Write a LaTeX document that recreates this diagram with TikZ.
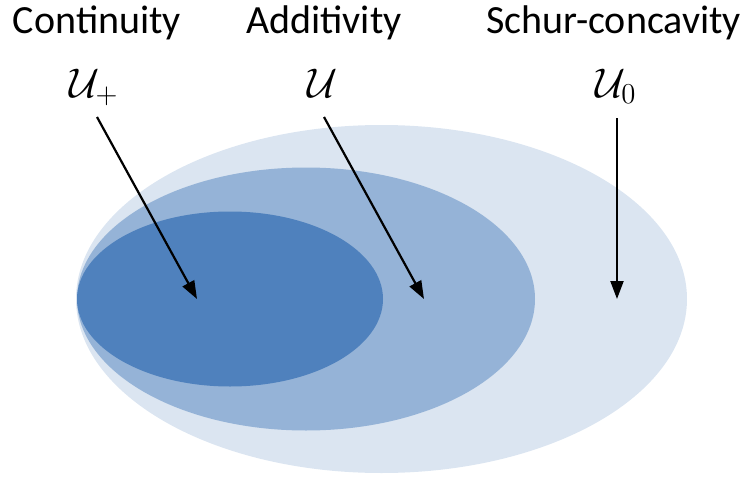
\documentclass[tikz,border=0pt]{standalone}
\usepackage{fontspec}
\setmainfont{Carlito}
\usepackage{tikz}
\usetikzlibrary{positioning,arrows.meta}
\definecolor{setouter}{HTML}{DBE5F1}
\definecolor{setmid}{HTML}{95B3D7}
\definecolor{setinner}{HTML}{4F81BD}
\newcommand{\Uset}{\mathcal{U}}

\begin{document}
\begin{tikzpicture}[x=0.5pt, y=-0.5pt,
  prop/.style={font=\fontsize{20}{24}\selectfont, inner sep=0pt, anchor=base},
  setname/.style={font=\fontsize{20}{24}\selectfont, inner sep=0pt, anchor=base},
  arr/.style={-{Triangle[length=9pt,width=6.5pt]}, line width=1.1pt}]
\useasboundingbox (0,0) rectangle (751,477);
% nested sets
\fill[setouter] (381.5,299) ellipse [x radius=305.5, y radius=174];
\fill[setmid] (306,299) ellipse [x radius=229, y radius=131.5];
\fill[setinner] (230,299) ellipse [x radius=153, y radius=87.5];
% properties and set names
\node[prop] (cont) at (97,33) {Continuity};
\node[prop] (add) at (324,33) {Additivity};
\node[prop] (schur) at (613.5,33) {Schur-concavity};
\node[setname] (up) at (94,97) {$\Uset_+$};
\node[setname] (u) at (323,97) {$\Uset$};
\node[setname] (u0) at (616,97) {$\Uset_0$};
\coordinate (up-top) at (97,117);
\coordinate (u-top) at (324,117);
\coordinate (u0-top) at (617,118);
\coordinate (up-tip) at (197,299);
\coordinate (u-tip) at (424,299);
\coordinate (u0-tip) at (617,299);
\foreach \a/\b in {up-top/up-tip, u-top/u-tip, u0-top/u0-tip} \draw[arr] (\a) -- (\b);
\end{tikzpicture}
\end{document}
